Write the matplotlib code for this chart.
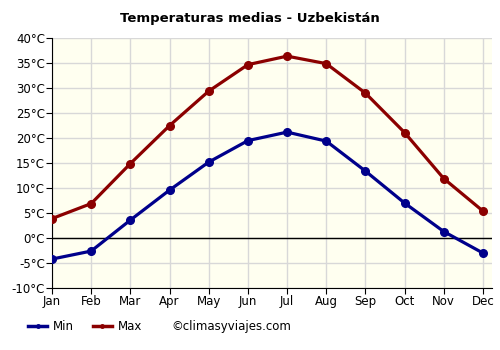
import numpy as np
import matplotlib
matplotlib.use('Agg')
import matplotlib.pyplot as plt
from matplotlib.lines import Line2D

months=['Jan','Feb','Mar','Apr','May','Jun','Jul','Aug','Sep','Oct','Nov','Dec']
t_min=[-4.2,-2.6,3.6,9.6,15.2,19.5,21.2,19.4,13.4,7.0,1.3,-3.0]
t_max=[3.9,6.9,14.9,22.5,29.4,34.7,36.4,34.9,29.0,21.1,11.9,5.4]
yticks=list(range(-10,45,5))

c_min='#00008b'
c_max='#8b0000'

fig=plt.figure(figsize=(5,3.5),dpi=100)
ax=fig.add_axes([0.104,0.177,0.88,0.714])
ax.set_facecolor('#fffff0')
x=np.arange(len(months))
ax.plot(x,t_min,color=c_min,lw=2.3,marker='o',ms=5.5,zorder=3)
ax.plot(x,t_max,color=c_max,lw=2.3,marker='o',ms=5.5,zorder=3)
ax.axhline(0,color='black',lw=1,zorder=2)

ax.set_xlim(0,11.23)
ax.set_ylim(-10,40)
ax.set_xticks(x)
ax.set_xticklabels(months,fontsize=8.5)
ax.set_yticks(yticks)
ax.set_yticklabels([f'{v}°C' for v in yticks],fontsize=8.5)
ax.grid(True,color='#d8d8d8',lw=1)
ax.set_axisbelow(True)
for s in ['top','right']:
	ax.spines[s].set_visible(False)
ax.tick_params(length=4,pad=1)

fig.text(0.5,0.948,'Temperaturas medias - Uzbekistán',ha='center',va='center',fontsize=9.5,fontweight='bold')

h=[Line2D([],[],color=c_min,lw=2.5,marker='o',ms=2.5),Line2D([],[],color=c_max,lw=2.5,marker='o',ms=2.5)]
fig.legend(h,['Min','Max'],loc='center left',bbox_to_anchor=(0.035,0.068),ncol=2,frameon=False,fontsize=8.5,handlelength=1.6,columnspacing=1.6,handletextpad=0.5)
fig.text(0.342,0.068,'©climasyviajes.com',ha='left',va='center',fontsize=8.5)

fig.savefig('out.png',dpi=100)
